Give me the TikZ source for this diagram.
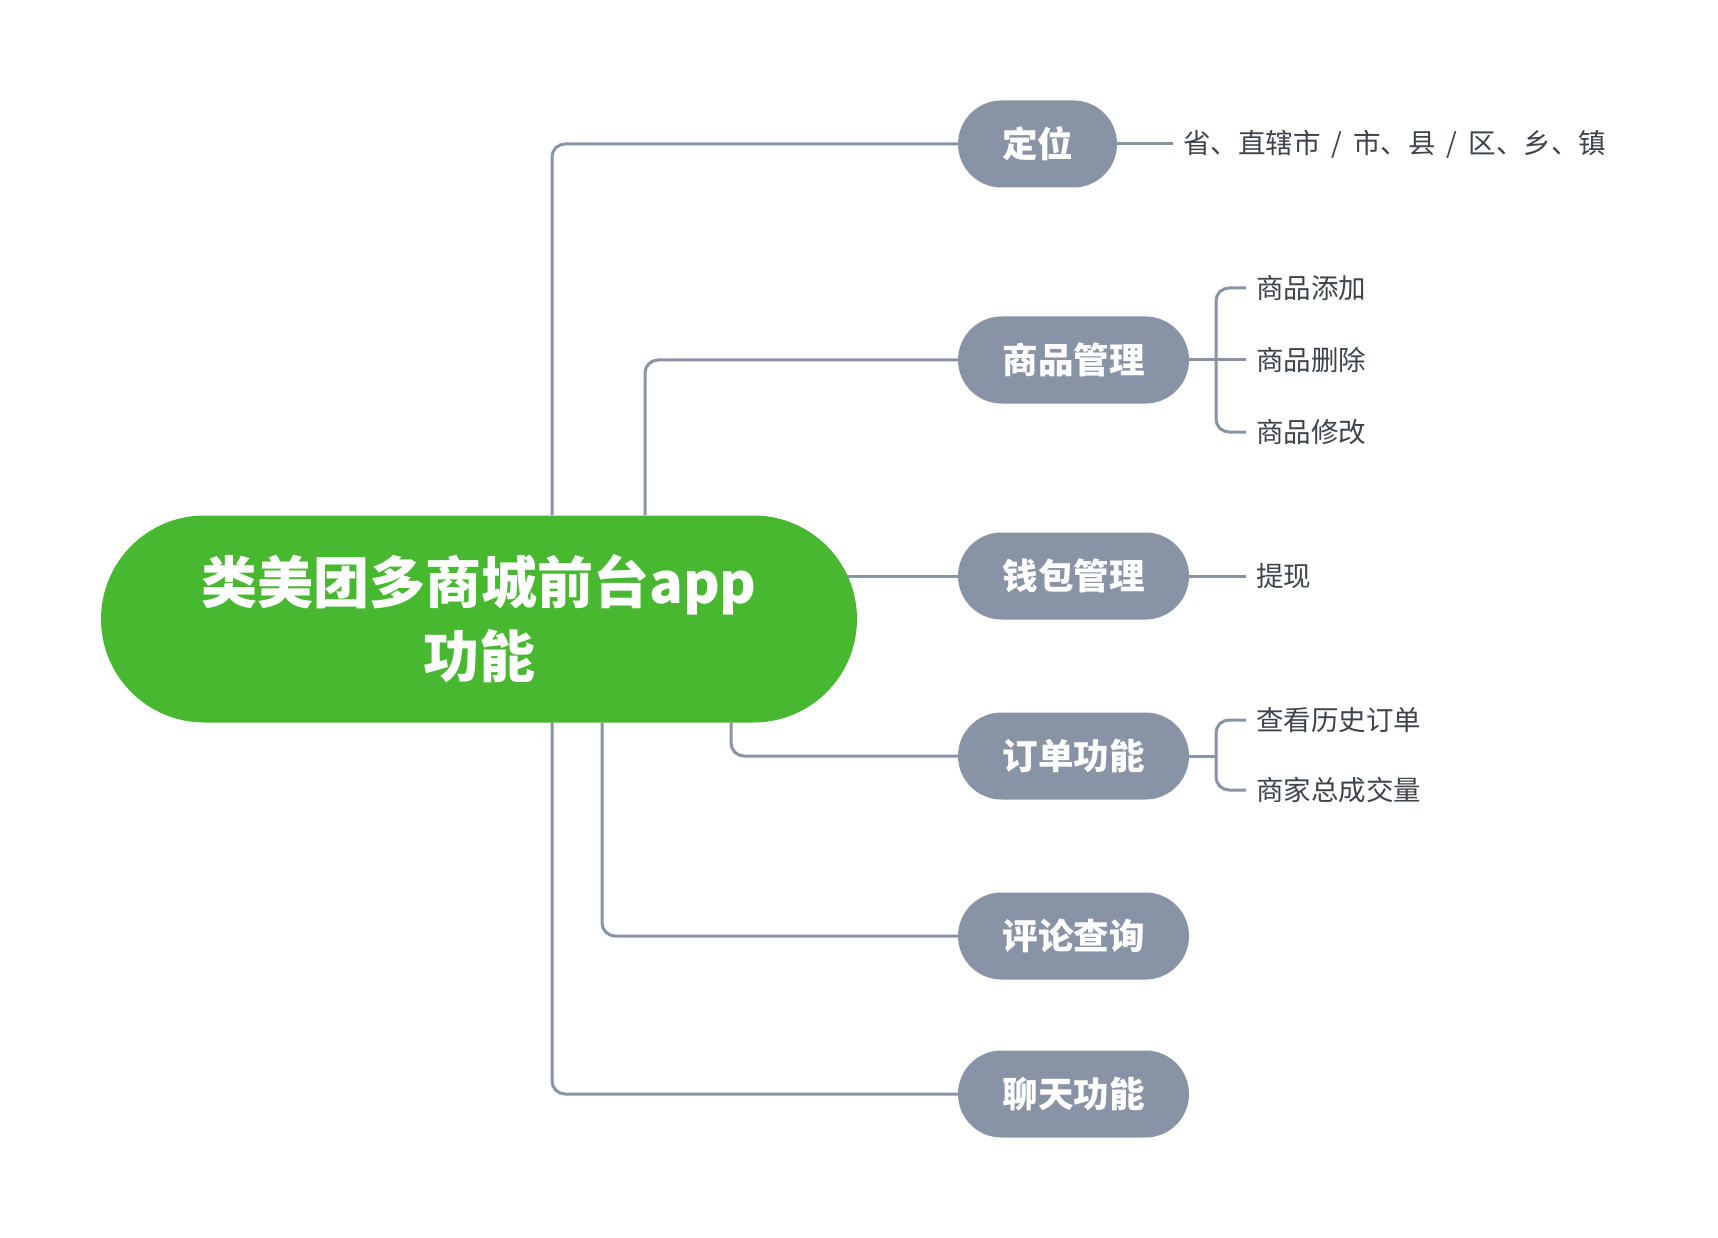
\documentclass[tikz,border=0pt]{standalone}
\usepackage{fontspec}
\setmainfont{Noto Sans CJK SC}
\usetikzlibrary{backgrounds}
\definecolor{mgreen}{HTML}{47B82F}
\definecolor{mgray}{HTML}{8893A5}
\definecolor{mtext}{HTML}{3E444C}
\tikzset{
  rootbox/.style={fill=mgreen, text=white, rounded corners=103.5pt, minimum width=756pt, minimum height=207pt, align=center, inner sep=0pt, font=\fontsize{56pt}{74pt}\selectfont\bfseries},
  topicbox/.style={fill=mgray, text=white, rounded corners=43.5pt, minimum height=87pt, inner sep=0pt, font=\fontsize{35.5pt}{40pt}\selectfont\bfseries},
  leaf/.style={anchor=west, text=mtext, inner xsep=10pt, inner ysep=0pt, font=\fontsize{27.5pt}{33pt}\selectfont},
  conn/.style={draw=mgray, line width=3pt, rounded corners=13pt},
}
\begin{document}
\begin{tikzpicture}[x=1pt,y=-1pt]
\useasboundingbox (0,0) rectangle (1718,1238);
% root
\node[rootbox] (c) at (479,619) {类美团多商城前台app\\功能};
% topics
\node[topicbox, minimum width=159pt] (dw) at (1037.5,144) {定位};
\node[topicbox, minimum width=231pt] (sp) at (1073.5,360) {商品管理};
\node[topicbox, minimum width=231pt] (qb) at (1073.5,576) {钱包管理};
\node[topicbox, minimum width=231pt] (dd) at (1073.5,756) {订单功能};
\node[topicbox, minimum width=231pt] (pl) at (1073.5,936) {评论查询};
\node[topicbox, minimum width=231pt] (lt) at (1073.5,1094) {聊天功能};
% leaves
\node[leaf] (dl) at (1173,144) {省、直辖市\hspace{11pt}/\hspace{11pt}市、县\hspace{11pt}/\hspace{11pt}区、乡、镇};
\node[leaf] (sa) at (1246,288) {商品添加};
\node[leaf] (sb) at (1246,360) {商品删除};
\node[leaf] (sc) at (1246,432) {商品修改};
\node[leaf] (ql) at (1246,576) {提现};
\node[leaf] (da) at (1246,720) {查看历史订单};
\node[leaf] (db) at (1246,790) {商家总成交量};
\coordinate (spj) at (1216,360);
\coordinate (ddj) at (1216,756);
% connectors root -> topics
\draw[conn] (c.north -| 552,0) |- (dw.west);
\draw[conn] (c.north -| 645,0) |- (sp.west);
\begin{pgfonlayer}{background}
\fill[white] (0,0) rectangle (1718,1238);
\draw[conn] (qb.west) -- (qb.west -| c.center);
\end{pgfonlayer}
\draw[conn] (c.south -| 731,0) |- (dd.west);
\draw[conn] (c.south -| 602,0) |- (pl.west);
\draw[conn] (c.south -| 552,0) |- (lt.west);
% topic -> leaves
\draw[conn] (dw.east) -- (dl.west);
\draw[conn] (sp.east) -- (spj);
\draw[conn] (sa.west) -| (spj) |- (sc.west);
\draw[conn] (sb.west) -- (spj);
\draw[conn] (qb.east) -- (ql.west);
\draw[conn] (dd.east) -- (ddj);
\draw[conn] (da.west) -| (ddj) |- (db.west);
\end{tikzpicture}
\end{document}
